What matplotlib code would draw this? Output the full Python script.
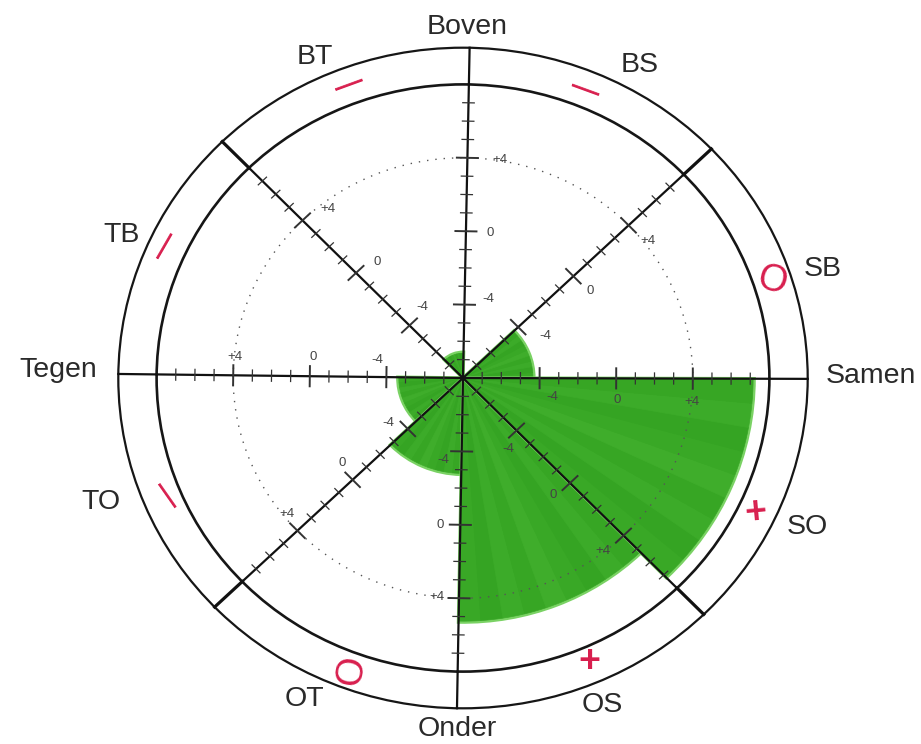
import numpy as np
import matplotlib
matplotlib.use('Agg')
import matplotlib.pyplot as plt
from matplotlib.patches import Wedge, Ellipse

plt.rcParams['font.family'] = ['Liberation Sans', 'DejaVu Sans']

spoke_deg = [-0.15, 43.9, 88.9, 134.3, 179.3, 223.9, 269.0, 314.3]
sector_start = [0, 1, 2, 3, 4, 5, 6, 7]
sector_names = ['SB', 'BS', 'BT', 'TB', 'TO', 'OT', 'OS', 'SO']
sector_score = [-4.3, None, -6.6, None, -4.6, -2.75, 5.3, 7.2]
sector_mark = ['O', '—', '—', '—', '—', 'O', '+', '+']

axis_names = ['Samen', 'Boven', 'Tegen', 'Onder']
major_ticks = [-4, 0, 4]
minor_ticks = [-7, -6, -5, -3, -2, -1, 1, 2, 3, 5, 6, 7]
tick_labels = ['-4', '0', '+4']

### Posities in pixels van het origineel
W, H = 921, 744
cx, cy = 463, 378
sx, sy = 19.15, 18.35
inner_r = 16
outer_r = 18

name_pos = {'Samen': (871, 376), 'Boven': (467, 27), 'Tegen': (58, 370), 'Onder': (457, 729),
            'SB': (823, 269), 'BS': (640, 65), 'BT': (315, 57), 'TB': (122, 235),
            'TO': (101, 502), 'OT': (304, 699), 'OS': (602, 705), 'SO': (807, 527)}
mark_pos = [(772, 281, -15), (585, 90, -20), (349, 85, 20), (165, 246, 60),
            (166, 495, -55), (352, 671, 80), (589, 662, 0), (756, 513, 5)]
label_pos = [[(552, 397), (617, 400), (692, 402)],   # Samen, onder de as
             [(545, 336), (590, 291), (648, 241)],
             [(488, 299), (490, 233), (500, 160)],
             [(422, 307), (377, 262), (328, 209)],
             [(377, 360), (313, 357), (235, 357)],
             [(388, 423), (342, 463), (287, 514)],
             [(443, 460), (440, 525), (437, 597)],
             [(508, 449), (553, 495), (603, 551)]]
green_shades = ['#39a826', '#35a423', '#3cab29', '#37a624', '#3fad2b']

fig = plt.figure(figsize=(W / 100, H / 100), dpi=100)
ax = fig.add_axes([0, 0, 1, 1])
ax.set_xlim(-cx / sx, (W - cx) / sx)
ax.set_ylim(-(H - cy) / sy, cy / sy)
ax.axis('off')

### Groene sectoren, in smalle strepen zoals de viltstift
for i in range(len(sector_score)):
    if sector_score[i] is None:
        continue
    a = spoke_deg[sector_start[i]]
    b = spoke_deg[(sector_start[i] + 1) % 8]
    if b < a:
        b = b + 360
    r = sector_score[i] + 8
    ax.add_patch(Wedge((0, 0), r, a, b, fc='#39a826', ec='#7ad264', lw=2.5, zorder=1))
    edges = np.linspace(a, b, 10)
    for n in range(9):
        c = green_shades[n % 5]
        ax.add_patch(Wedge((0, 0), r - 0.05, edges[n], edges[n + 1], fc=c, ec=c, lw=0.5, zorder=1))

### Cirkels
ax.add_patch(Ellipse((0, 0), 2 * inner_r, 2 * inner_r, fc='none', ec='#161616', lw=1.9, zorder=3))
ax.add_patch(Ellipse((0, 0), 2 * outer_r, 2 * outer_r, fc='none', ec='#161616', lw=1.6, zorder=3))
ax.add_patch(Ellipse((0, 0), 24, 24, fc='none', ec='#555555', lw=1, ls=(0, (1, 5)), zorder=2))

### Spaken met streepjes
for k in range(len(spoke_deg)):
    t = np.radians(spoke_deg[k])
    ux, uy = np.cos(t), np.sin(t)
    ax.plot([0, inner_r * ux], [0, inner_r * uy], color='#111111', lw=1.6, zorder=4)
    ring_lw = 2.3 if k % 2 == 1 else 1.6
    ax.plot([inner_r * ux, outer_r * ux], [inner_r * uy, outer_r * uy], color='#111111', lw=ring_lw, zorder=4)
    for v, half in [(m, 0.55) for m in major_ticks] + [(m, 0.3) for m in minor_ticks]:
        r = v + 8
        ax.plot([r * ux - half * uy, r * ux + half * uy], [r * uy + half * ux, r * uy - half * ux],
                color='#333333', lw=1.4 if half > 0.5 else 0.9, zorder=4)
    for j in range(3):
        x, y = label_pos[k][j]
        fig.text(x / W, 1 - y / H, tick_labels[j], fontsize=9.5, color='#444444', ha='center', va='center', zorder=5)

### Namen en rode tekens
for name in name_pos:
    x, y = name_pos[name]
    fig.text(x / W, 1 - y / H, name, fontsize=20.5, color='#2a2a2a', ha='center', va='center')

for i in range(len(sector_mark)):
    x, y, rot = mark_pos[i]
    size = 21 if sector_mark[i] == '—' else 27
    fig.text(x / W, 1 - y / H, sector_mark[i], fontsize=size, color='#d81f4e', ha='center', va='center',
             rotation=rot, fontweight='bold' if sector_mark[i] != 'O' else 'normal')

plt.savefig('out.png', dpi=100)
